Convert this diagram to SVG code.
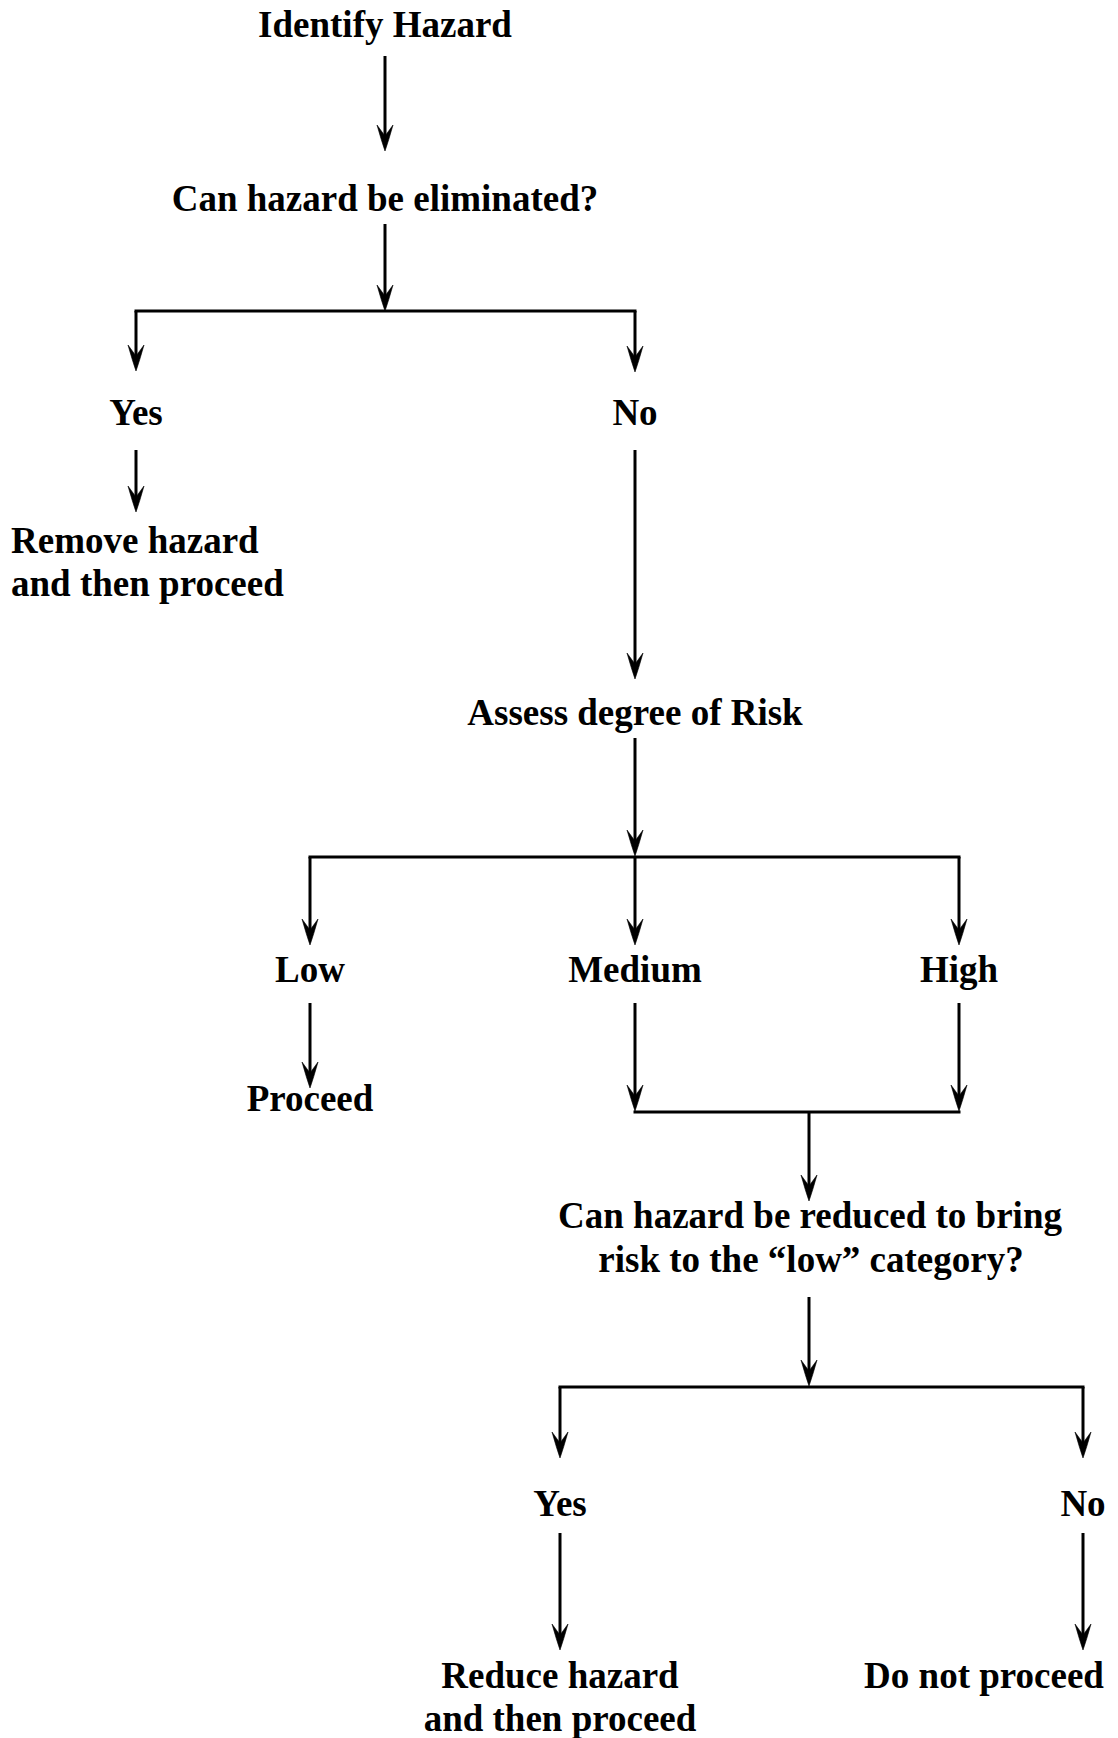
<svg xmlns="http://www.w3.org/2000/svg" width="1118" height="1738" viewBox="0 0 1118 1738">
<style>
.t{font-family:"Liberation Serif","Times New Roman",serif;font-weight:bold;font-size:37px;fill:#000;text-anchor:middle}
.l{text-anchor:start}
.c{stroke:#000;stroke-width:3;fill:none}
.a{marker-end:url(#ah)}
.h{stroke-linecap:square}
</style>
<defs>
<marker id="ah" markerUnits="userSpaceOnUse" viewBox="-27 -10 28 20" markerWidth="28" markerHeight="20" refX="-10" refY="0" orient="auto">
<path d="M0,0 Q-10,-3.5 -26,-8 L-15,0 L-26,8 Q-10,3.5 0,0 Z" fill="#000" stroke="#000" stroke-width="0.6" stroke-linejoin="round"/>
</marker>
</defs>
<rect width="1118" height="1738" fill="#fff"/>
<g id="connectors">
<line class="c a" x1="385" y1="56" x2="385" y2="141"/>
<line class="c a" x1="385" y1="224" x2="385" y2="301"/>
<line class="c h" x1="136" y1="311" x2="635" y2="311"/>
<line class="c a" x1="136" y1="311" x2="136" y2="361"/>
<line class="c a" x1="635" y1="311" x2="635" y2="362"/>
<line class="c a" x1="136" y1="450" x2="136" y2="502"/>
<line class="c a" x1="635" y1="450" x2="635" y2="669"/>
<line class="c a" x1="635" y1="738" x2="635" y2="846"/>
<line class="c h" x1="310" y1="857" x2="959" y2="857"/>
<line class="c a" x1="310" y1="857" x2="310" y2="935"/>
<line class="c a" x1="635" y1="857" x2="635" y2="935"/>
<line class="c a" x1="959" y1="857" x2="959" y2="935"/>
<line class="c a" x1="310" y1="1003" x2="310" y2="1078"/>
<line class="c a" x1="635" y1="1003" x2="635" y2="1101"/>
<line class="c a" x1="959" y1="1003" x2="959" y2="1101"/>
<line class="c h" x1="635" y1="1112" x2="959" y2="1112"/>
<line class="c a" x1="809" y1="1112" x2="809" y2="1191"/>
<line class="c a" x1="809" y1="1297" x2="809" y2="1376"/>
<line class="c h" x1="560" y1="1387" x2="1083" y2="1387"/>
<line class="c a" x1="560" y1="1387" x2="560" y2="1448"/>
<line class="c a" x1="1083" y1="1387" x2="1083" y2="1448"/>
<line class="c a" x1="560" y1="1533" x2="560" y2="1640"/>
<line class="c a" x1="1083" y1="1533" x2="1083" y2="1640"/>
</g>
<g id="identify"><text class="t" x="385" y="37">Identify Hazard</text></g>
<g id="eliminate"><text class="t" x="385" y="211">Can hazard be eliminated?</text></g>
<g id="yes1"><text class="t" x="136" y="425">Yes</text></g>
<g id="no1"><text class="t" x="635" y="425">No</text></g>
<g id="remove"><text class="t l" x="11" y="553">Remove hazard</text><text class="t l" x="11" y="596">and then proceed</text></g>
<g id="assess"><text class="t" x="635" y="725">Assess degree of Risk</text></g>
<g id="low"><text class="t" x="310" y="982">Low</text></g>
<g id="medium"><text class="t" x="635" y="982">Medium</text></g>
<g id="high"><text class="t" x="959" y="982">High</text></g>
<g id="proceed"><text class="t" x="310" y="1111">Proceed</text></g>
<g id="reduce-q"><text class="t" x="810" y="1228">Can hazard be reduced to bring</text><text class="t" x="811" y="1272">risk to the “low” category?</text></g>
<g id="yes2"><text class="t" x="560" y="1516">Yes</text></g>
<g id="no2"><text class="t" x="1083" y="1516">No</text></g>
<g id="reduce"><text class="t" x="560" y="1688">Reduce hazard</text><text class="t" x="560" y="1731">and then proceed</text></g>
<g id="donot"><text class="t" x="984" y="1688">Do not proceed</text></g>
</svg>
